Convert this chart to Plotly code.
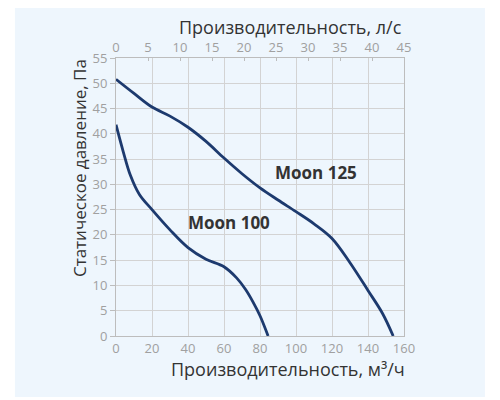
import plotly.graph_objects as go

# Moon 125 fan curve (flow m3/h -> static pressure Pa)
moon125_flow = [0, 10, 20, 30, 40, 50, 60, 70, 80, 90, 100, 110, 120, 130, 140, 148, 154]
moon125_pressure = [50.8, 48, 45.3, 43.5, 41.3, 38.5, 35.2, 32.1, 29.3, 26.9, 24.6, 22.2, 19.3, 14.5, 9, 4.5, 0]

# Moon 100 fan curve
moon100_flow = [0, 4, 8, 13, 20, 30, 40, 50, 60, 67, 72, 76, 80, 84.5]
moon100_pressure = [41.8, 36.5, 31.8, 28, 25, 21, 17.5, 15.2, 13.7, 11.5, 9.2, 6.8, 4, 0]

labels = ["Moon 125", "Moon 100"]
label_x = [111, 63]
label_y = [32.3, 22.4]

line_color = "#1d3a6e"
tick_color = "#a0a0a0"
title_color = "#333333"
font_family = "Open Sans"

fig = go.Figure()

fig.add_trace(go.Scatter(x=moon125_flow, y=moon125_pressure, mode="lines",
                         line=dict(color=line_color, width=2.8, shape="spline"),
                         name=labels[0]))
fig.add_trace(go.Scatter(x=moon100_flow, y=moon100_pressure, mode="lines",
                         line=dict(color=line_color, width=2.8, shape="spline"),
                         name=labels[1]))
# invisible trace so the top (l/s) axis gets drawn
fig.add_trace(go.Scatter(x=[0, 45], y=[0, 0], xaxis="x2", mode="lines",
                         line=dict(width=0), hoverinfo="skip", showlegend=False))

for text, x, y in zip(labels, label_x, label_y):
    fig.add_annotation(x=x, y=y, text=f"<b>{text}</b>", showarrow=False,
                       font=dict(size=17, color=title_color, family=font_family))

# light blue panel behind the chart
fig.add_shape(type="rect", xref="paper", yref="paper", layer="below",
              x0=-0.351, x1=1.281, y0=-0.219, y1=1.21,
              fillcolor="#eef6fd", line=dict(width=0))

fig.add_annotation(xref="paper", yref="paper", x=1.01, y=-0.068, xanchor="right", yanchor="top",
                   text="Производительность, м³/ч", showarrow=False,
                   font=dict(size=18, color=title_color, family=font_family))
fig.add_annotation(xref="paper", yref="paper", x=1.0, y=1.062, xanchor="right", yanchor="bottom",
                   text="Производительность, л/с", showarrow=False,
                   font=dict(size=18, color=title_color, family=font_family))
fig.add_annotation(xref="paper", yref="paper", x=-0.08, y=1.005, xanchor="right", yanchor="top",
                   text="Статическое давление, Па", textangle=-90, showarrow=False,
                   font=dict(size=17, color=title_color, family=font_family))

fig.update_layout(
    width=492, height=392,
    margin=dict(l=108, r=96, t=50, b=64),
    paper_bgcolor="white",
    plot_bgcolor="white",
    showlegend=False,
    font=dict(family=font_family, color=tick_color, size=12),
    xaxis=dict(range=[0, 160], dtick=20, showgrid=True, gridcolor="#d3d3d3", gridwidth=1,
               zeroline=False, showline=True, linecolor="#bdbdbd", mirror=False,
               ticks="", tickfont=dict(size=13, color=tick_color)),
    xaxis2=dict(range=[0, 45], dtick=5, overlaying="x", side="top", showgrid=False,
                zeroline=False, showline=True, linecolor="#bdbdbd",
                ticks="inside", ticklen=3, tickcolor="#bdbdbd",
                tickfont=dict(size=13, color=tick_color)),
    yaxis=dict(range=[0, 55], dtick=5, showgrid=True, gridcolor="#d3d3d3", gridwidth=1,
               zeroline=False, showline=True, linecolor="#bdbdbd", mirror=True,
               ticks="outside", ticklen=5, tickcolor="#bdbdbd",
               tickfont=dict(size=13, color=tick_color)),
)

fig.write_html("out.html")
